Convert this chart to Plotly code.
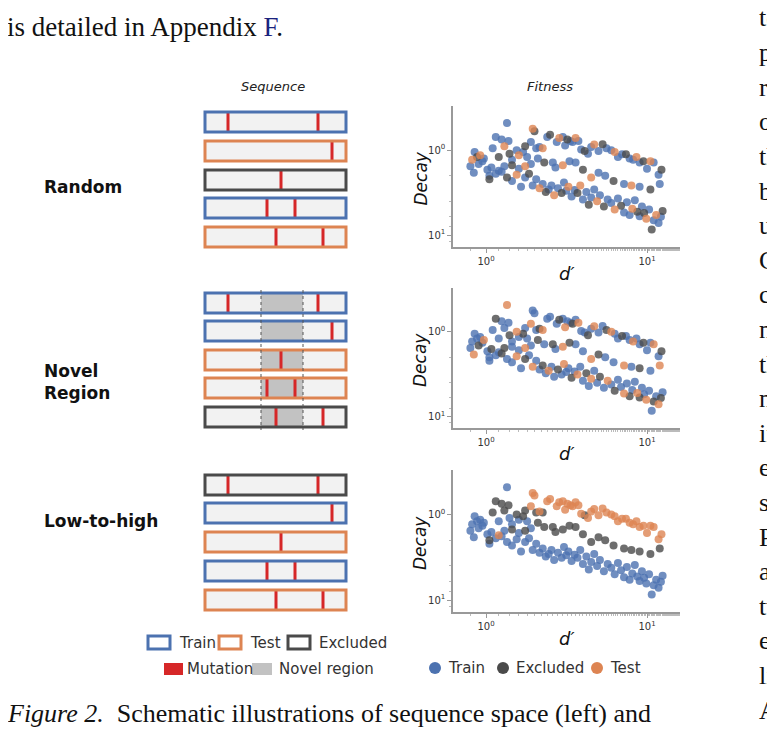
import plotly.graph_objects as go

W, H = 775, 737
OFF = 8
FW, FH = W - 2 * OFF, H - 2 * OFF
BLUE, ORANGE, GRAY, RED = "#4c72b0", "#dd8452", "#4a4a4a", "#d62728"
CMAP = {"T": BLUE, "E": GRAY, "S": ORANGE}

d_prime = [0.80,0.82,0.84,0.85,0.88,0.90,0.92,0.95,0.97,1.02,1.05,1.08,
    1.10,1.15,1.20,1.25,1.30,1.35,1.38,1.40,1.45,1.55,1.60,1.70,1.75,1.80,1.90,1.95,2.00,2.05,2.15,2.25,2.40,2.50,2.60,2.75,2.85,3.00,3.10,3.20,3.35,3.45,3.60,3.75,3.90,4.10,4.30,4.50,4.70,5.00,5.30,5.60,6.00,6.30,6.60,7.00,7.40,7.80,8.20,8.60,9.00,9.50,10.0,10.5,11.0,11.8,12.3,
    1.20,1.30,1.45,1.60,1.75,1.90,2.10,2.30,2.70,3.00,3.30,3.60,4.00,4.50,5.00,5.50,6.20,7.20,8.00,9.00,10.5,12.0,
    1.05,1.15,1.25,1.35,1.45,1.55,1.65,1.75,1.85,1.95,2.05,2.15,2.25,2.35,2.45,2.55,2.65,2.80,2.95,3.05,3.15,3.25,3.40,3.55,3.70,3.85,4.00,4.20,4.35,4.50,4.70,4.90,5.10,5.40,5.70,6.00,6.30,6.60,6.90,7.20,7.50,7.80,8.10,8.40,8.70,9.00,9.30,9.60,9.90,10.3,10.7,11.0,11.4,11.8,12.2,12.5]
decay = [1.55,1.30,1.85,1.05,1.20,1.45,1.15,1.35,1.25,1.70,2.20,1.60,
    0.95,0.70,1.20,0.75,0.90,0.48,0.78,1.10,1.30,1.00,1.15,1.05,0.90,1.20,0.80,0.56,0.60,0.95,0.92,0.95,0.70,0.66,1.40,0.80,0.72,0.70,0.88,0.75,0.78,0.80,0.72,0.78,0.98,1.02,1.10,0.92,0.86,1.02,0.85,0.95,1.00,1.05,1.20,1.12,1.12,1.25,1.30,1.20,1.40,1.35,1.65,1.35,1.40,1.95,1.70,
    1.75,1.55,1.50,1.65,1.55,1.45,1.25,1.40,1.60,1.50,1.35,1.40,1.70,2.10,1.85,2.00,2.30,2.50,2.60,2.70,2.90,2.50,
    2.00,1.90,1.80,2.10,2.30,1.95,2.70,2.10,1.90,2.60,2.20,2.80,2.50,3.10,2.90,2.60,3.40,2.80,3.20,2.40,3.00,2.70,3.50,2.95,3.20,2.60,3.80,3.10,4.40,3.60,2.90,4.00,3.40,4.60,3.80,4.20,5.00,3.70,4.50,5.40,4.10,5.80,4.90,3.90,5.30,6.00,4.60,5.50,6.40,5.00,8.60,6.70,5.80,7.20,6.10,5.20]

split_random = ("TSTTETSTTTET"
    + "TTETSTTE" "TTSTETTS" "ETTSTETT" "STTETTST" "TETTSTET" "TSTTETTS" "TETSTTET"
    + "TETSTTETST" "TESTTETSTE" "TT"
    + "TTETSTTE" "TTSTETTS" "TETTSTTE" "STTETTST" "ETTSTETT" "TSTETTES" "TETSTTET")
split_novel = ("TTSTTETTSTTE"
    + "TETTTSTE" "TSTETTST" "TTESTTET" "ETSTTETS" "TTETSTTE" "STTETTST" "TETTSTET"
    + "ETTSTETTSE" "TTSETTSTET" "ST"
    + "TETTSTET" "STTETSTT" "ETSTTETS" "TTETSTTE" "TSTETTST" "ETTSETTS" "TTETSETT")
split_low = ("TTTTTTTTTTTT"
    + "EETEETETTETEET" "SSS" "E" "S" "E" "SS" "E" "SSSSSSSSSS" "E" "SSSSSSSSSSSSSSSSSSSSSS"
    + "TETETE" "EEEEEEEEEEEEEEEE"
    + "T" * 56)

row_labels = ["Random", "Novel<br>Region", "Low-to-high"]
bar_colors = [["T", "S", "E", "T", "S"], ["T", "T", "S", "S", "E"], ["E", "T", "S", "T", "S"]]
mutations = [[228, 318], [332], [281], [267, 295], [276, 323]]

fig = go.Figure()
shapes, ann = [], []

def px(x): return (x - OFF) / FW
def py(y): return 1 - (y - OFF) / FH

def rect(x0, y0, x1, y1, **kw):
    shapes.append(dict(type="rect", xref="paper", yref="paper", x0=px(x0), x1=px(x1), y0=py(y1), y1=py(y0), **kw))

def text(x, y, s, size=14, color="#222", family="DejaVu Sans", xa="left", ya="middle"):
    ann.append(dict(x=px(x), y=py(y), xref="paper", yref="paper", text=s, showarrow=False,
                    font=dict(size=size, color=color, family=family), xanchor=xa, yanchor=ya, align="left"))

row_y = [[122, 151, 180, 208, 237], [303, 331, 360, 388, 417], [485, 513, 542, 571, 600]]
label_y = [187, 382, 521]
BX0, BX1 = 205, 346
for p in range(3):
    for r in range(5):
        yc = row_y[p][r]
        rect(BX0, yc - 10, BX1, yc + 10, fillcolor="#f2f2f2", line=dict(width=0))
        if p == 1:
            rect(261, yc - 9, 303, yc + 9, fillcolor="#c2c2c2", line=dict(width=0))
        for m in mutations[r]:
            rect(m - 1.5, yc - 10, m + 1.5, yc + 10, fillcolor=RED, line=dict(width=0))
        rect(BX0, yc - 10, BX1, yc + 10, fillcolor="rgba(0,0,0,0)", line=dict(width=3, color=CMAP[bar_colors[p][r]]))
    text(42, label_y[p], "<b>" + row_labels[p] + "</b>", size=17, color="#111")
for xv in (261, 303):
    shapes.append(dict(type="line", xref="paper", yref="paper", x0=px(xv), x1=px(xv), y0=py(290), y1=py(430),
                       line=dict(width=1, color="#555", dash="dot")))

text(273, 87, "<i>Sequence</i>", size=13, xa="center")
text(550, 87, "<i>Fitness</i>", size=13, xa="center")

for x0, c, lab in [(148, BLUE, "Train"), (219, ORANGE, "Test"), (288, GRAY, "Excluded")]:
    rect(x0, 636, x0 + 22, 649, fillcolor="white", line=dict(width=3, color=c))
    text(x0 + 29, 643, lab, size=15, color="#333")
rect(164, 663, 183, 675, fillcolor=RED, line=dict(width=0))
text(185, 669, "Mutation", size=15, color="#333")
rect(252, 663, 272, 675, fillcolor="#c2c2c2", line=dict(width=0))
text(277, 669, "Novel region", size=15, color="#333")

panels = [(106, 247), (288, 428), (470, 612)]
splits = [split_random, split_novel, split_low]
for i, ((t, b), sp) in enumerate(zip(panels, splits)):
    ax = "" if i == 0 else str(i + 1)
    for k in ["T", "E", "S"]:
        xs = [d for d, c in zip(d_prime, sp) if c == k]
        ys = [v for v, c in zip(decay, sp) if c == k]
        fig.add_trace(go.Scatter(x=xs, y=ys, mode="markers", xaxis="x" + ax, yaxis="y" + ax, showlegend=False,
                                 marker=dict(size=8, color=CMAP[k], opacity=0.8, line=dict(width=0))))
    common = dict(type="log", showgrid=False, zeroline=False, showline=True, linecolor="#999", linewidth=1.5,
                  ticks="outside", ticklen=4, tickcolor="#999", tickfont=dict(size=10, color="#333", family="DejaVu Sans"),
                  tickvals=[1, 10], ticktext=["10<sup>0</sup>", "10<sup>1</sup>"],
                  minor=dict(ticks="outside", ticklen=2, tickcolor="#bbb"))
    fig.update_layout(**{
        "xaxis" + ax: dict(domain=[px(453), px(680)], range=[-0.205, 1.205], anchor="y" + ax, **common),
        "yaxis" + ax: dict(domain=[py(b), py(t)], range=[1.14, -0.52], anchor="x" + ax, **common),
    })
    text(420, (t + b) / 2 + 2, "<i>Decay</i>", size=17, color="#111", xa="center")
    ann[-1]["textangle"] = -90
    text(567, b + 26, "<i>d′</i>", size=18, color="#111", xa="center")

for xc, c, lab in [(435, BLUE, "Train"), (503, GRAY, "Excluded"), (597, ORANGE, "Test")]:
    shapes.append(dict(type="circle", xref="paper", yref="paper", x0=px(xc - 6), x1=px(xc + 6),
                       y0=py(674), y1=py(662), fillcolor=c, line=dict(width=0)))
    text(xc + 11, 668, lab, size=15, color="#333")

SERIF = "Liberation Serif"
text(5, 27, 'is detailed in Appendix <span style="color:#1a237e">F</span>.', size=27, color="#111", family=SERIF)
text(5, 713, "<i>Figure 2.</i>  Schematic illustrations of sequence space (left) and", size=26, color="#111", family=SERIF)
right_col = ["te", "p", "re", "o", "th", "b", "u", "C", "c", "n", "th", "n", "in", "e", "st", "P", "a", "tv", "e", "li", "A"]
for j, s in enumerate(right_col):
    text(757, 18 + j * 34.6, s, size=26, color="#111", family=SERIF)

fig.update_layout(width=FW, height=FH, margin=dict(l=0, r=0, t=0, b=0), plot_bgcolor="white",
                  paper_bgcolor="white", shapes=shapes, annotations=ann)
fig.write_html("out.html")
